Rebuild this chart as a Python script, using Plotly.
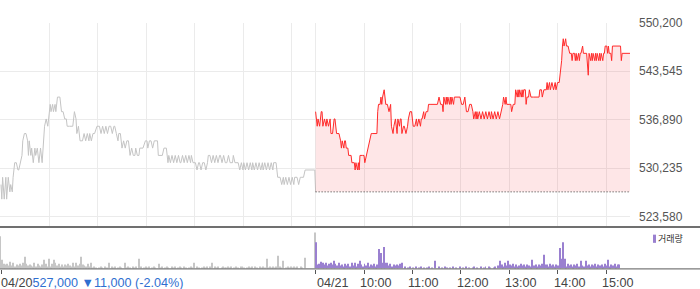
import plotly.graph_objects as go

# ---------------- data ----------------
DAY_OFFSET = {"04/20": 0.0, "04/21": 6.5}   # hours from 04/20 09:00 (one session = 6.5 h)
PREV_CLOSE = 527000
CLOSE_TEXT = "527,000 ▼11,000 (-2.04%)"

TIME_0420 = ["09:00","09:01","09:02","09:03","09:04","09:06","09:07","09:09","09:11","09:12","09:14","09:15","09:17","09:19","09:21","09:22","09:24","09:26","09:27","09:29","09:31","09:33","09:34","09:35","09:37","09:38","09:40","09:42","09:43","09:45","09:47","09:49","09:51","09:52","09:54","09:56","09:58","09:59",
             "10:01","10:02","10:04","10:05","10:07","10:08","10:10","10:13","10:15","10:17","10:19","10:21","10:22","10:25","10:29","10:31","10:33","10:34","10:36","10:38","10:41","10:43","10:45","10:47","10:49","10:50","10:52","10:54","10:56","10:59",
             "11:02","11:04","11:06","11:08","11:10","11:12","11:14","11:16","11:18","11:20","11:21","11:23","11:25","11:26","11:28","11:30","11:32","11:34","11:36","11:38","11:40","11:42","11:44","11:46","11:47","11:49","11:51","11:52","11:54","11:56","11:59",
             "12:01","12:02","12:04","12:06","12:08","12:10","12:12","12:14","12:15","12:17","12:20","12:22","12:25","12:27","12:28","12:30","12:32","12:34","12:36","12:38","12:40","12:42","12:43","12:45","12:47","12:49","12:51","12:53","12:55","12:56","12:58",
             "13:01","13:03","13:05","13:06","13:08","13:10","13:12","13:14","13:16","13:17","13:19","13:21","13:23","13:25","13:27","13:29","13:31","13:32","13:34","13:36","13:38","13:40","13:42","13:44","13:47","13:48","13:50","13:52","13:54","13:56","13:58",
             "14:00","14:01","14:03","14:05","14:07","14:09","14:11","14:12","14:14","14:16","14:18","14:20","14:22","14:24","14:25","14:27","14:29","14:31","14:33","14:35","14:37","14:38","14:41","14:43","14:46","14:48","14:50","14:51","14:53","14:55","14:57","14:59",
             "15:01","15:03","15:04","15:07","15:09","15:11","15:13","15:15","15:17","15:20","15:29","15:30"]
PRICE_0420 = [528000,526000,529000,527000,526000,529000,526000,529000,527000,528000,527000,529000,531000,531000,530000,530000,531000,532000,534000,535000,535000,534000,532000,534000,532000,533000,531000,533000,532000,533000,531000,533000,531000,533000,536000,537000,536000,537000,
              539000,538000,539000,538000,539000,538000,540000,540000,538000,538000,537000,537000,536000,536000,536000,538000,537000,535000,536000,534000,534000,535000,534000,535000,534000,535000,534000,535000,535000,536000,
              536000,535000,536000,535000,536000,535000,536000,536000,535000,536000,536000,535000,534000,535000,535000,533000,534000,533000,534000,534000,532000,533000,532000,532000,533000,532000,532000,533000,533000,533000,534000,
              534000,533000,534000,534000,533000,534000,534000,534000,532000,532000,532000,533000,533000,531000,532000,531000,532000,531000,532000,531000,532000,531000,531000,532000,531000,532000,531000,532000,531000,532000,531000,
              531000,530000,531000,531000,530000,531000,531000,530000,531000,532000,532000,531000,532000,531000,532000,531000,532000,532000,531000,532000,531000,531000,532000,531000,531000,532000,531000,531000,531000,530000,531000,
              530000,531000,530000,531000,530000,531000,530000,531000,530000,531000,530000,531000,530000,531000,530000,531000,530000,531000,530000,531000,530000,531000,531000,529000,529000,528000,529000,528000,529000,528000,529000,528000,
              529000,528000,529000,529000,528000,529000,529000,529000,530000,530000,530000,527000]

TIME_0421 = ["09:00","09:02","09:03","09:05","09:07","09:08","09:09","09:11","09:13","09:14","09:16","09:18","09:19","09:21","09:23","09:24","09:26","09:29","09:31","09:32","09:33","09:35","09:36","09:37","09:38","09:40","09:41","09:44","09:45","09:48","09:49","09:50","09:52","09:53","09:54","09:55","09:58",
             "10:00","10:01","10:03","10:05","10:07","10:09","10:11","10:14","10:16","10:17","10:18","10:20","10:21","10:22","10:23","10:25","10:26","10:27","10:29","10:31","10:33","10:34","10:36","10:37","10:39","10:40","10:41","10:42","10:44","10:45","10:46","10:47","10:49","10:50","10:52","10:54","10:55","10:57","10:59",
             "11:00","11:01","11:03","11:05","11:06","11:08","11:10","11:11","11:12","11:14","11:15","11:17","11:19","11:20","11:23","11:26","11:29","11:31","11:33","11:35","11:37","11:38","11:39","11:41","11:42","11:43","11:44","11:46","11:47","11:48","11:49","11:51","11:52","11:54","11:57","11:59",
             "12:01","12:03","12:05","12:07","12:09","12:11","12:13","12:15","12:16","12:18","12:19","12:20","12:21","12:23","12:25","12:27","12:29","12:31","12:33","12:35","12:37","12:38","12:40","12:42","12:44","12:46","12:48","12:50","12:52","12:53","12:55","12:56","12:57",
             "13:00","13:02","13:03","13:05","13:07","13:08","13:10","13:11","13:12","13:13","13:15","13:16","13:17","13:18","13:20","13:21","13:22","13:24","13:25","13:27","13:30","13:32","13:35","13:37","13:38","13:40","13:41","13:43","13:46","13:47","13:48","13:50","13:51","13:53","13:55","13:57","13:58",
             "14:00","14:02","14:03","14:05","14:06","14:07","14:08","14:10","14:11","14:13","14:15","14:17","14:18","14:19","14:21","14:22","14:23","14:24","14:26","14:27","14:28","14:29","14:31","14:32","14:34","14:36","14:38","14:39","14:41","14:42","14:43","14:44","14:46","14:47","14:48","14:49","14:51","14:52","14:53","14:54","14:56","14:57","14:58","14:59",
             "15:01","15:02","15:03","15:04","15:06","15:07","15:08","15:12","15:16","15:18","15:19","15:20","15:30"]
PRICE_0421 = [538000,536000,537000,536000,538000,538000,536000,537000,536000,537000,536000,537000,535000,535000,537000,537000,535000,535000,534000,533000,534000,533000,534000,534000,533000,533000,532000,532000,531000,531000,530000,531000,530000,531000,530000,532000,532000,
              532000,531000,532000,533000,534000,535000,535000,535000,535000,538000,539000,539000,540000,539000,540000,541000,540000,539000,539000,538000,539000,536000,535000,536000,537000,536000,535000,537000,536000,537000,537000,535000,536000,536000,535000,536000,537000,538000,538000,
              537000,536000,536000,537000,536000,537000,536000,537000,537000,538000,537000,538000,538000,539000,539000,539000,539000,539000,540000,539000,539000,538000,540000,539000,540000,539000,540000,539000,540000,539000,540000,539000,540000,540000,540000,540000,
              539000,539000,540000,538000,538000,539000,539000,538000,537000,538000,537000,538000,537000,538000,537000,538000,537000,538000,537000,538000,537000,538000,537000,538000,537000,538000,537000,538000,539000,540000,539000,540000,539000,
              539000,539000,538000,539000,539000,541000,540000,541000,540000,541000,540000,541000,540000,541000,541000,539000,540000,540000,541000,540000,540000,540000,540000,540000,541000,541000,540000,541000,541000,542000,541000,542000,541000,542000,541000,542000,541000,
              542000,542000,543000,545000,547000,548000,547000,548000,547000,547000,546000,546000,545000,546000,546000,545000,546000,545000,546000,545000,546000,546000,547000,546000,546000,546000,543000,546000,545000,546000,545000,546000,545000,546000,545000,546000,545000,546000,545000,546000,545000,546000,546000,547000,
              547000,546000,547000,546000,546000,545000,547000,547000,547000,547000,545000,546000,546000]

# volume: one digit per 2-minute slot (relative units), plus larger prints listed separately
VOL_BASE_0420 = ("98545373624353625343262532435242536352424353242635343252"
                 "21210121021202120121021210212012012120121021201210212012102101212021012"
                 "1202102120121121201210221012120210212101212120212012121212021"
                 "00000")
SPIKE_MIN_0420 = [0, 2, 30, 54, 60, 66, 90, 100, 112, 134, 154, 172, 196, 240, 262, 330, 344, 350, 378, 390]
SPIKE_VOL_0420 = [33, 9, 12, 9, 10, 9, 6, 12, 6, 6, 6, 10, 5, 6, 6, 10, 13, 8, 11, 37]

VOL_BASE_0421 = ("43532463524253634253524362534253624352435342635243435"
                 "102012010201201012010102010210102010201020101201020120210120"
                 "3242532435242353424325342435244253424352342534243524325342435243425342435243"
                 "000000")
SPIKE_MIN_0421 = [0, 2, 6, 8, 18, 22, 44, 54, 78, 80, 82, 84, 86, 106, 148, 228, 234, 238, 268, 282, 302, 304, 306, 308, 328, 334, 362, 376, 390]
SPIKE_VOL_0421 = [27, 4, 7, 6, 6, 8, 6, 8, 20, 16, 6, 22, 6, 6, 8, 8, 6, 8, 9, 14, 21, 10, 27, 10, 8, 8, 9, 4, 32]

Y_TICKS = [523580, 530235, 536890, 543545, 550200]
HOUR_LABELS = ["10:00", "11:00", "12:00", "13:00", "14:00", "15:00"]

# ---------------- helpers ----------------
W, H = 700, 289
PX_PER_HOUR = 48.4
X0 = -1 / PX_PER_HOUR
X1 = X0 + 630 / PX_PER_HOUR


def to_hours(t, day):
    h, m = map(int, t.split(":"))
    return DAY_OFFSET[day] + (h - 9) + m / 60.0


def py(p):  # pixel row -> paper fraction
    return 1 - p / H


def volume_series(base, spike_min, spike_vol, day):
    d = {2 * i: int(c) for i, c in enumerate(base)}
    for m, v in zip(spike_min, spike_vol):
        d[m] = v
    mins = sorted(d)
    return [DAY_OFFSET[day] + m / 60.0 for m in mins], [d[m] for m in mins]


RED = "#ff2a2a"
GRAY_LINE = "#c4c4c4"
PURPLE = "#9a80d0"
GRID = "#ebebeb"
FONT = "Liberation Sans"

fig = go.Figure()

# price: 04/20 (gray)
fig.add_trace(go.Scatter(
    x=[to_hours(t, "04/20") for t in TIME_0420], y=PRICE_0420,
    mode="lines", line=dict(color=GRAY_LINE, width=1), hoverinfo="skip", showlegend=False))

# baseline (previous close) for 04/21, dotted
base_x = [to_hours(TIME_0421[0], "04/21"), to_hours(TIME_0421[-1], "04/21")]
fig.add_trace(go.Scatter(
    x=base_x, y=[PREV_CLOSE, PREV_CLOSE], mode="lines",
    line=dict(color="#333333", width=1, dash="1px,2px"), hoverinfo="skip", showlegend=False))

# price: 04/21 (red) with fill to previous close
fig.add_trace(go.Scatter(
    x=[to_hours(t, "04/21") for t in TIME_0421], y=PRICE_0421,
    mode="lines", line=dict(color=RED, width=1), fill="tonexty",
    fillcolor="rgba(245,60,70,0.13)", hoverinfo="skip", showlegend=False))

# volume bars
bw = 1.0 / PX_PER_HOUR
vx, vy = volume_series(VOL_BASE_0420, SPIKE_MIN_0420, SPIKE_VOL_0420, "04/20")
fig.add_trace(go.Bar(x=vx, y=vy, width=bw, offset=-bw, marker=dict(color="#c6c6c6", line=dict(width=0)),
                     xaxis="x2", yaxis="y2", hoverinfo="skip", showlegend=False))
vx, vy = volume_series(VOL_BASE_0421, SPIKE_MIN_0421, SPIKE_VOL_0421, "04/21")
fig.add_trace(go.Bar(x=vx, y=vy, width=bw, offset=0, marker=dict(color=PURPLE, line=dict(width=0)),
                     xaxis="x2", yaxis="y2", hoverinfo="skip", showlegend=False))

grid_hours = [0, 1, 2, 3, 4, 5, 6] + [6.5 + i for i in range(7)]
tick_hours = [0] + [6.5 + i for i in range(7)]

fig.update_layout(
    width=W, height=H, autosize=False,
    margin=dict(l=0, r=0, t=0, b=0, pad=0),
    paper_bgcolor="white", plot_bgcolor="white",
    barmode="overlay",
    xaxis=dict(domain=[0, 630 / W], range=[X0, X1], tickvals=grid_hours, showticklabels=False,
               showgrid=True, gridcolor=GRID, gridwidth=1, zeroline=False, showline=False, ticks=""),
    yaxis=dict(domain=[py(225), py(16)], range=[522242, 550215], side="right",
               tickvals=Y_TICKS, ticktext=[f"{v:,}" for v in Y_TICKS],
               showgrid=True, gridcolor=GRID, gridwidth=1, zeroline=False, showline=False, ticks="",
               ticklabelstandoff=8, tickfont=dict(family=FONT, size=12, color="#555555")),
    xaxis2=dict(domain=[0, 630 / W], range=[X0, X1], anchor="y2", tickvals=tick_hours,
                showticklabels=False, ticks="outside", ticklen=4, tickwidth=1, tickcolor="#555555",
                showgrid=False, zeroline=False, showline=False),
    yaxis2=dict(domain=[py(268), py(227)], range=[0, 41], visible=False),
    font=dict(family=FONT),
    shapes=[
        dict(type="line", xref="paper", yref="paper", x0=0, x1=1, y0=py(225.5), y1=py(225.5),
             line=dict(color="#707070", width=2)),
        dict(type="line", xref="paper", yref="paper", x0=0, x1=1, y0=py(268.3), y1=py(268.3),
             line=dict(color="#7a7a7a", width=1.2)),
        dict(type="rect", xref="paper", yref="paper", x0=653 / W, x1=656 / W, y0=py(241.7), y1=py(233.3),
             fillcolor=PURPLE, line=dict(width=0)),
    ],
)

ann = [
    dict(text="04/20<span style='color:#2f6fd0'>" + CLOSE_TEXT + "</span>", xref="paper", yref="paper",
         x=0, y=py(282.5), xanchor="left", yanchor="middle", showarrow=False, borderpad=0,
         font=dict(family=FONT, size=12.6, color="#444444")),
    dict(text="04/21", xref="paper", yref="paper", x=316 / W, y=py(282.5), xanchor="left", yanchor="middle",
         showarrow=False, borderpad=0, font=dict(family=FONT, size=12.6, color="#444444")),
    dict(text="거래량", xref="paper", yref="paper", x=657 / W, y=py(237.5), xanchor="left", yanchor="middle",
         showarrow=False, borderpad=0, font=dict(family="Noto Sans CJK KR", size=9, color="#333333")),
]
for i, lab in enumerate(HOUR_LABELS):
    ann.append(dict(text=lab, xref="x2", yref="paper", x=7.5 + i, y=py(282.5), xanchor="left",
                    xshift=-5, yanchor="middle", showarrow=False, borderpad=0,
                    font=dict(family=FONT, size=12.6, color="#444444")))
fig.update_layout(annotations=ann)

fig.write_html("out.html")
